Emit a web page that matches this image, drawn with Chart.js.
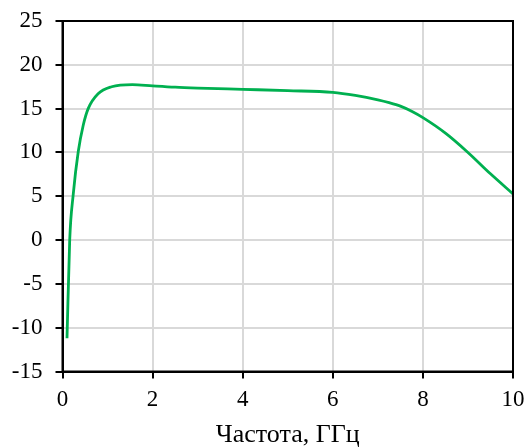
<!DOCTYPE html>
<html>
<head>
<meta charset="utf-8">
<script src="https://cdn.jsdelivr.net/npm/chart.js@4/dist/chart.umd.min.js"></script>
<style>
    html, body { margin: 0; padding: 0; background: #fff; }
    #wrap { width: 527px; height: 448px; }
</style>
</head>
<body>
<div id="wrap"><canvas id="graficoGanho" width="527" height="448"></canvas></div>
<script>
// Dados: frequencia (GHz) e ganho (dB)
const freq = [0.1, 0.16, 0.24, 0.35, 0.46, 0.57, 0.79, 1.09, 1.55, 2.0, 2.5, 3.0, 4.0, 5.0, 6.0, 6.5, 7.0, 7.25, 7.5, 7.75, 8.0, 8.5, 9.0, 9.5, 10];
const gain = [-11.2, 0, 5.3, 10.1, 13.1, 15.0, 16.7, 17.5, 17.75, 17.6, 17.45, 17.35, 17.2, 17.05, 16.85, 16.5, 16.0, 15.68, 15.28, 14.7, 13.97, 12.2, 10.0, 7.56, 5.27];
const xTicks = [0, 2, 4, 6, 8, 10];
const yTicks = [-15, -10, -5, 0, 5, 10, 15, 20, 25];

Chart.defaults.font.family = 'Liberation Serif';
Chart.defaults.color = '#000';

// Moldura preta em volta da area do grafico
const moldura = {
    id: 'moldura',
    afterDraw(chart) {
        const { ctx, chartArea: a } = chart;
        ctx.save();
        ctx.strokeStyle = '#000';
        ctx.lineWidth = 2;
        ctx.strokeRect(a.left, a.top, a.right - a.left, a.bottom - a.top);
        ctx.restore();
    }
};

function initChart() {
    const ctx = document.getElementById('graficoGanho').getContext('2d');
    new Chart(ctx, {
        type: 'line',
        data: {
            datasets: [{
                data: freq.map((f, i) => ({ x: f, y: gain[i] })),
                borderColor: '#00b050',
                borderWidth: 2.8,
                pointRadius: 0,
                fill: false,
                cubicInterpolationMode: 'monotone'
            }]
        },
        options: {
            responsive: false,
            animation: false,
            layout: { padding: { top: 21, right: 14, left: 0, bottom: 0 } },
            plugins: { legend: { display: false }, tooltip: { enabled: false } },
            scales: {
                x: {
                    type: 'linear',
                    min: 0,
                    max: 10,
                    afterBuildTicks: s => { s.ticks = xTicks.map(v => ({ value: v })); },
                    afterFit: s => {
                        s.height = 76.5;
                        s.paddingLeft = 0;
                        s.paddingRight = 0;
                    },
                    grid: { color: '#d9d9d9', lineWidth: 2, tickColor: '#000', tickLength: 7, tickWidth: 2 },
                    border: { color: '#000', width: 2 },
                    ticks: { color: '#000', font: { family: 'Liberation Serif', size: 23 }, padding: 8, maxRotation: 0 },
                    title: {
                        display: true,
                        text: 'Частота, ГГц',
                        color: '#000',
                        font: { family: 'Liberation Serif', size: 26, lineHeight: 1 },
                        padding: { top: 2, bottom: 0 }
                    }
                },
                y: {
                    min: -15,
                    max: 25,
                    afterBuildTicks: s => { s.ticks = yTicks.map(v => ({ value: v })); },
                    afterFit: s => {
                        s.width = 62.5;
                        s.paddingTop = 0;
                        s.paddingBottom = 0;
                    },
                    grid: { color: '#d9d9d9', lineWidth: 2, tickColor: '#000', tickLength: 7, tickWidth: 2 },
                    border: { color: '#000', width: 2 },
                    ticks: { color: '#000', font: { family: 'Liberation Serif', size: 23 }, padding: 13 }
                }
            }
        },
        plugins: [moldura]
    });
}

document.addEventListener('DOMContentLoaded', initChart);
</script>
</body>
</html>
